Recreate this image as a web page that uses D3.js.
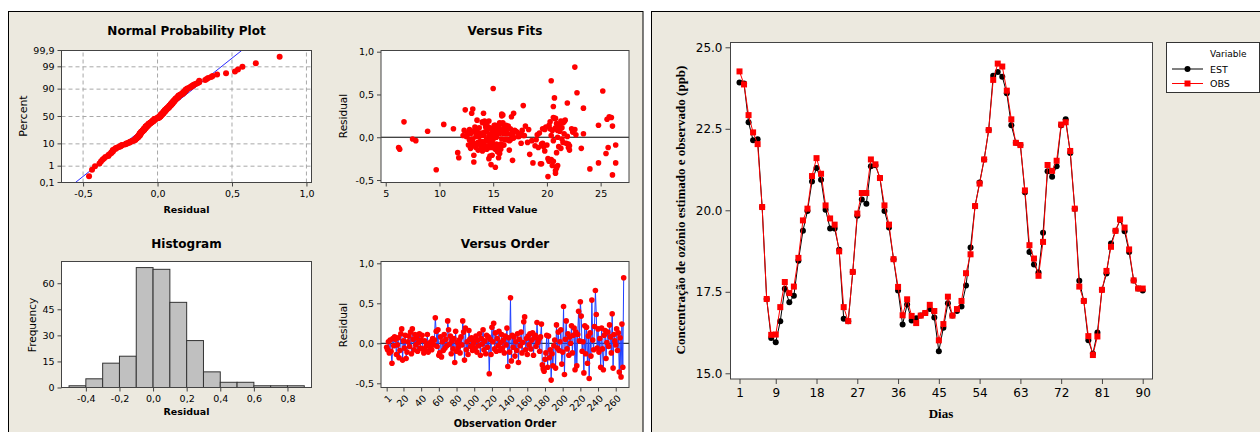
<!DOCTYPE html>
<html>
<head>
<meta charset="utf-8">
<script src="https://cdn.jsdelivr.net/npm/d3@7"></script>
<style>
  body { margin: 0; background: #fff; }
  svg { display: block; }
</style>
</head>
<body>
<svg width="1260" height="432"></svg>
<script>
// ---- residual diagnostics (left panel) ----
const residuals = [
  -0.05,-0.08,0.02,-0.12,0.04,-0.10,-0.25,0.06,-0.03,0.08,0.05,-0.14,-0.02,0.07,-0.18,-0.09,0.12,0.18,-0.21,0.03,
  -0.06,0.10,-0.19,-0.11,0.02,0.09,-0.04,0.14,-0.13,0.18,0.05,-0.08,0.11,-0.02,0.07,-0.10,0.01,0.12,-0.06,0.04,
  0.10,-0.07,-0.12,0.03,-0.09,-0.03,0.11,-0.11,0.00,-0.05,0.02,-0.08,0.06,-0.02,0.04,0.32,0.15,-0.04,0.17,-0.15,
  -0.12,0.08,-0.17,0.02,-0.09,0.11,-0.06,0.05,-0.03,0.28,0.17,-0.01,0.09,-0.13,0.03,-0.07,0.06,-0.24,0.15,-0.10,
  0.01,-0.05,0.04,-0.12,0.08,-0.02,0.28,0.14,-0.21,0.19,-0.08,0.02,-0.14,0.16,0.05,-0.04,0.07,-0.09,0.00,0.03,
  -0.06,0.09,-0.11,0.04,-0.03,0.12,-0.15,0.06,-0.01,0.17,-0.08,0.03,-0.13,0.10,-0.05,0.08,-0.38,0.05,-0.14,0.20,
  0.02,0.25,-0.07,0.13,-0.10,0.06,-0.03,0.15,-0.09,0.01,0.11,-0.06,0.04,-0.12,0.09,-0.02,0.19,-0.29,0.07,-0.11,
  0.57,-0.22,0.10,-0.05,0.08,-0.16,0.02,-0.09,0.12,-0.24,0.05,-0.03,0.14,-0.12,0.01,0.27,0.33,-0.08,0.06,-0.14,
  0.09,-0.02,0.12,-0.07,0.04,0.13,-0.15,0.07,0.10,-0.04,0.26,0.01,0.05,-0.10,0.08,0.24,-0.27,-0.32,-0.35,-0.20,
  -0.12,0.10,-0.30,0.09,-0.18,-0.08,-0.46,-0.13,-0.28,-0.03,0.04,-0.31,0.23,-0.06,0.14,-0.09,0.02,0.17,-0.26,-0.11,
  0.46,-0.39,0.05,0.28,-0.07,0.12,-0.15,0.08,0.00,0.22,-0.12,0.10,0.19,-0.33,0.14,-0.28,0.11,0.40,0.03,0.52,
  0.34,-0.10,0.02,-0.37,0.22,-0.13,0.20,-0.25,0.09,-0.44,0.13,-0.16,0.54,0.04,-0.08,0.21,0.66,0.36,-0.06,0.18,
  -0.11,0.06,-0.30,0.19,-0.07,-0.33,0.10,0.16,-0.19,0.01,0.14,-0.04,0.23,0.08,-0.12,0.37,-0.31,0.11,0.03,-0.02,
  0.18,-0.09,0.13,-0.36,0.07,-0.42,0.24,-0.30,0.82
];
const fittedValues = [
  14.2,13.6,15.1,6.2,14.8,13.1,14.6,15.9,12.8,16.2,13.9,6.3,7.5,14.4,11.7,15.4,13.3,6.7,14.9,12.6,
  13.8,11.3,15.6,14.1,16.8,13.5,7.8,15.2,12.9,14.0,16.1,13.4,14.7,15.8,8.9,14.3,12.5,15.5,13.0,16.4,
  14.5,13.2,15.0,14.0,12.7,16.6,13.7,14.9,15.3,13.9,12.2,15.7,14.2,13.1,16.0,12.4,10.4,14.6,15.9,13.6,
  14.8,13.3,15.4,14.1,12.9,16.3,13.8,15.1,14.4,13.0,14.0,16.9,12.8,15.5,13.5,14.7,17.2,11.8,14.3,15.8,
  13.4,14.9,15.6,13.9,12.3,15.0,14.1,16.2,13.2,14.6,15.3,13.7,14.4,15.7,12.6,16.5,13.1,14.8,15.2,14.0,
  13.6,15.9,14.3,12.9,16.1,14.5,15.4,13.3,14.7,15.6,13.0,16.7,14.2,15.1,13.8,17.0,9.7,14.9,15.7,13.5,
  14.6,15.8,13.9,16.4,14.1,15.2,12.8,14.4,16.0,13.7,15.5,14.8,17.5,13.4,15.0,16.2,14.2,13.2,15.6,14.5,
  15.0,14.7,16.6,13.8,15.3,14.0,17.8,15.9,14.3,15.5,13.6,16.3,15.1,14.6,17.3,15.8,13.1,14.9,16.8,15.2,
  18.3,14.4,16.0,17.6,15.4,18.0,16.5,17.1,14.8,18.6,15.9,17.4,16.2,18.9,17.7,16.7,16.8,14.8,15.2,18.4,
  19.2,20.3,18.7,19.8,20.9,19.5,20.1,21.3,20.2,19.0,21.6,19.4,20.6,18.2,21.1,20.0,17.9,21.5,20.4,19.7,
  20.7,20.8,19.3,16.9,21.8,19.9,22.1,20.5,21.0,20.8,22.0,19.6,21.6,21.0,20.2,20.6,21.4,21.9,19.1,22.8,
  23.4,22.1,20.4,24.0,20.7,23.2,21.7,20.1,22.6,26.1,21.2,19.8,25.2,23.4,22.0,25.6,20.4,20.6,21.5,20.3,
  21.1,22.4,24.8,21.3,19.6,20.5,22.3,20.9,25.5,21.9,24.8,20.6,26.0,21.0,25.7,17.8,19.5,20.8,22.7,21.4,
  21.6,26.4,26.1,20.9,21.2,20.8,25.8,26.4,22.6
];
const histEdges  = [-0.5,-0.4,-0.3,-0.2,-0.1,0.0,0.1,0.2,0.3,0.4,0.5,0.6,0.7,0.8];
const histCounts = [1,5,14,18,69,68,49,27,9,3,3,1,1,1];
const histBinWidth = 0.1;

const probTicks   = [0.1, 1, 10, 50, 90, 99, 99.9];
const probXTicks  = [-0.5, 0, 0.5, 1.0];
const fitsXTicks  = [5, 10, 15, 20, 25];
const residTicks  = [-0.5, 0, 0.5, 1.0];
const histXTicks  = [-0.4, -0.2, 0, 0.2, 0.4, 0.6, 0.8];
const histYTicks  = [0, 15, 30, 45, 60];
const orderXTicks = [1, 20, 40, 60, 80, 100, 120, 140, 160, 180, 200, 220, 240, 260];

// ---- ozone series (right panel) ----
const est = [
  23.92,23.89,22.70,22.15,22.18,20.10,17.28,16.08,15.95,16.60,
  17.59,17.18,17.38,18.45,19.37,19.98,20.88,21.30,20.94,20.02,
  19.44,19.44,18.79,16.67,16.60,18.11,19.83,20.33,20.20,21.35,
  21.38,20.99,19.98,19.47,18.50,17.54,16.50,17.11,16.62,16.69,
  16.77,16.85,16.97,16.71,15.68,16.40,17.15,16.77,16.91,17.05,
  17.69,18.86,20.13,20.85,21.56,22.46,24.13,24.24,24.10,23.59,
  22.61,22.07,22.00,20.55,18.72,18.34,18.09,19.31,21.20,21.03,
  21.35,22.61,22.79,21.76,20.05,17.84,17.22,16.01,15.60,16.25,
  17.56,18.06,18.98,19.37,19.70,19.36,18.72,17.85,17.60,17.54
];
const obs = [
  24.26,23.86,22.92,22.39,22.03,20.10,17.28,16.18,16.19,17.03,
  17.80,17.46,17.66,18.54,19.69,20.05,21.05,21.60,21.12,20.15,
  19.75,19.56,18.74,17.03,16.60,18.11,19.90,20.53,20.53,21.56,
  21.41,20.99,20.15,19.56,18.50,17.65,16.78,17.27,16.76,16.54,
  16.77,16.85,17.10,16.91,16.01,16.51,17.35,16.77,16.97,17.22,
  18.07,18.65,20.13,20.82,21.56,22.46,24.00,24.50,24.41,23.67,
  22.79,22.07,22.00,20.61,18.93,18.52,17.99,19.03,21.39,21.21,
  21.52,22.63,22.70,21.82,20.05,17.66,17.22,16.14,15.56,16.13,
  17.56,18.14,18.88,19.37,19.72,19.47,18.80,17.85,17.60,17.60
];
const dayTicks = [1, 9, 18, 27, 36, 45, 54, 63, 72, 81, 90];
const ozoneTicks = [15.0, 17.5, 20.0, 22.5, 25.0];

const svg = d3.select('svg');
const bg = '#ECE9DF';
const sans = '"DejaVu Sans", Verdana, sans-serif';
const serif = '"Liberation Serif", "Times New Roman", serif';
const comma = v => d3.format('.1f')(v).replace('.', ',').replace('\u2212', '-');

// panel backgrounds
svg.append('rect').attr('x', 8.5).attr('y', 11.5).attr('width', 634.5).attr('height', 440)
    .attr('fill', bg).attr('stroke', '#000');
svg.append('rect').attr('x', 651.5).attr('y', 11.5).attr('width', 620).attr('height', 440)
    .attr('fill', bg).attr('stroke', '#000');

// Acklam's inverse normal CDF, for the probability axis
function normInv(p) {
    const a = [-39.69683028665376, 220.9460984245205, -275.9285104469687, 138.3577518672690, -30.66479806614716, 2.506628277459239];
    const b = [-54.47609879822406, 161.5858368580409, -155.6989798598866, 66.80131188771972, -13.28068155288572];
    const c = [-0.007784894002430293, -0.3223964580411365, -2.400758277161838, -2.549732539343734, 4.374664141464968, 2.938163982698783];
    const d = [0.007784695709041462, 0.3224671290700398, 2.445134137142996, 3.754408661907416];
    const pl = 0.02425;
    let q, r;
    if (p < pl) {
        q = Math.sqrt(-2 * Math.log(p));
        return (((((c[0]*q+c[1])*q+c[2])*q+c[3])*q+c[4])*q+c[5]) / ((((d[0]*q+d[1])*q+d[2])*q+d[3])*q+1);
    }
    if (p <= 1 - pl) {
        q = p - 0.5; r = q * q;
        return (((((a[0]*r+a[1])*r+a[2])*r+a[3])*r+a[4])*r+a[5])*q / (((((b[0]*r+b[1])*r+b[2])*r+b[3])*r+b[4])*r+1);
    }
    q = Math.sqrt(-2 * Math.log(1 - p));
    return -(((((c[0]*q+c[1])*q+c[2])*q+c[3])*q+c[4])*q+c[5]) / ((((d[0]*q+d[1])*q+d[2])*q+d[3])*q+1);
}

// white plotting frame for a pair of scales
function drawFrame(x, y, id) {
    const [x0, x1] = x.range();
    const [y1, y0] = y.range();
    svg.append('rect').attr('x', x0).attr('y', y0).attr('width', x1 - x0).attr('height', y1 - y0)
        .attr('fill', '#fff');
    svg.append('clipPath').attr('id', id).append('rect')
        .attr('x', x0).attr('y', y0).attr('width', x1 - x0).attr('height', y1 - y0);
}
function drawBorder(x, y) {
    const [x0, x1] = x.range();
    const [y1, y0] = y.range();
    svg.append('rect').attr('x', x0).attr('y', y0).attr('width', x1 - x0).attr('height', y1 - y0)
        .attr('fill', 'none').attr('stroke', '#444');
}
function styleAxis(g, size) {
    g.select('.domain').remove();
    g.selectAll('line').attr('stroke', '#444');
    g.selectAll('text').attr('font-family', sans).attr('font-size', size).attr('fill', '#000');
}
function xAxis(x, y, ticks, fmt, size) {
    const g = svg.append('g').attr('transform', `translate(0,${y.range()[0]})`)
        .call(d3.axisBottom(x).tickValues(ticks).tickFormat(fmt).tickSize(4).tickSizeOuter(0).tickPadding(4));
    styleAxis(g, size);
    return g;
}
function yAxis(x, y, ticks, fmt, size) {
    const g = svg.append('g').attr('transform', `translate(${x.range()[0]},0)`)
        .call(d3.axisLeft(y).tickValues(ticks).tickFormat(fmt).tickSize(4).tickSizeOuter(0).tickPadding(3));
    styleAxis(g, size);
    return g;
}
function label(text, x, y, opts = {}) {
    const t = svg.append('text')
        .attr('x', x).attr('y', y)
        .attr('text-anchor', opts.anchor || 'middle')
        .attr('dominant-baseline', 'central')
        .attr('font-family', opts.family || sans)
        .attr('font-size', opts.size || 10)
        .attr('font-weight', opts.bold ? 'bold' : 'normal')
        .attr('fill', '#000')
        .text(text);
    if (opts.rotate) t.attr('transform', `rotate(-90, ${x}, ${y})`);
    return t;
}

// ---------- Normal Probability Plot ----------
const n = residuals.length;
const zMin = normInv(0.001), zMax = normInv(0.999);
const pX = d3.scaleLinear().domain([-0.645, 1.034]).range([61.5, 311.5]);
const pY = d3.scaleLinear().domain([zMin, zMax]).range([182.5, 50.5]);
drawFrame(pX, pY, 'clipP');

svg.append('g').selectAll('line.vg').data(probXTicks).join('line')
    .attr('x1', d => pX(d)).attr('x2', d => pX(d)).attr('y1', pY.range()[0]).attr('y2', pY.range()[1])
    .attr('stroke', '#a8a8a8').attr('stroke-dasharray', '4,3');
svg.append('g').selectAll('line.hg').data(probTicks).join('line')
    .attr('x1', pX.range()[0]).attr('x2', pX.range()[1])
    .attr('y1', d => pY(normInv(d / 100))).attr('y2', d => pY(normInv(d / 100)))
    .attr('stroke', '#a8a8a8').attr('stroke-dasharray', '4,3');

const mean = d3.mean(residuals), sd = d3.deviation(residuals);
svg.append('line').attr('clip-path', 'url(#clipP)')
    .attr('x1', pX(mean + sd * zMin)).attr('y1', pY(zMin))
    .attr('x2', pX(mean + sd * zMax)).attr('y2', pY(zMax))
    .attr('stroke', '#2b2bff').attr('stroke-width', 1);

const sorted = residuals.slice().sort(d3.ascending);
svg.append('g').selectAll('circle').data(sorted).join('circle')
    .attr('cx', d => pX(d))
    .attr('cy', (d, i) => pY(normInv((i + 1 - 0.3) / (n + 0.4))))
    .attr('r', 3).attr('fill', '#ff0000');
drawBorder(pX, pY);
xAxis(pX, pY, probXTicks, comma, 9.5);
yAxis(pX, pY, probTicks, d => String(d).replace('.', ','), 9.5)
    .selectAll('.tick').attr('transform', d => `translate(0,${pY(normInv(d / 100))})`);
label('Normal Probability Plot', 186.5, 31, { bold: true, size: 12 });
label('Residual', 186.5, 209, { bold: true, size: 9.5 });
label('Percent', 23.5, 116, { size: 11, rotate: true });

// ---------- Versus Fits ----------
const fX = d3.scaleLinear().domain([4.56, 27.64]).range([381, 629]);
const fY = d3.scaleLinear().domain([-0.529, 1.014]).range([182.5, 50.5]);
drawFrame(fX, fY, 'clipF');
svg.append('line').attr('x1', fX.range()[0]).attr('x2', fX.range()[1])
    .attr('y1', fY(0)).attr('y2', fY(0)).attr('stroke', '#000');
svg.append('g').selectAll('circle').data(residuals).join('circle')
    .attr('cx', (d, i) => fX(fittedValues[i])).attr('cy', d => fY(d))
    .attr('r', 2.8).attr('fill', '#ff0000');
drawBorder(fX, fY);
xAxis(fX, fY, fitsXTicks, d3.format('d'), 9.5);
yAxis(fX, fY, residTicks, comma, 9.5);
label('Versus Fits', 505, 31, { bold: true, size: 12 });
label('Fitted Value', 505, 209, { bold: true, size: 9.5 });
label('Residual', 343, 116, { size: 10.5, rotate: true });

// ---------- Histogram ----------
const hX = d3.scaleLinear().domain([-0.545, 0.943]).range([61.5, 311.5]);
const hY = d3.scaleLinear().domain([0, 72.5]).range([387.5, 261.5]);
drawFrame(hX, hY, 'clipH');
svg.append('g').selectAll('rect').data(histCounts).join('rect')
    .attr('x', (d, i) => hX(histEdges[i]))
    .attr('width', (d, i) => hX(histEdges[i] + histBinWidth) - hX(histEdges[i]))
    .attr('y', d => hY(d))
    .attr('height', d => hY(0) - hY(d))
    .attr('fill', '#c0c0c0').attr('stroke', '#333').attr('stroke-width', 1);
drawBorder(hX, hY);
xAxis(hX, hY, histXTicks, comma, 9.5);
yAxis(hX, hY, histYTicks, d3.format('d'), 9.5);
label('Histogram', 186.5, 243.5, { bold: true, size: 12 });
label('Residual', 186.5, 411.5, { bold: true, size: 9.5 });
label('Frequency', 31.5, 325, { size: 10.5, rotate: true });

// ---------- Versus Order ----------
const oX = d3.scaleLinear().domain([-5.4, 275]).range([381, 629]);
const oY = d3.scaleLinear().domain([-0.5525, 1.0225]).range([387.5, 261.5]);
drawFrame(oX, oY, 'clipO');
svg.append('line').attr('x1', oX.range()[0]).attr('x2', oX.range()[1])
    .attr('y1', oY(0)).attr('y2', oY(0)).attr('stroke', '#000');
svg.append('path').datum(residuals)
    .attr('d', d3.line().x((d, i) => oX(i + 1)).y(d => oY(d)))
    .attr('fill', 'none').attr('stroke', '#1f3fff').attr('stroke-width', 1);
svg.append('g').selectAll('circle').data(residuals).join('circle')
    .attr('cx', (d, i) => oX(i + 1)).attr('cy', d => oY(d))
    .attr('r', 2.8).attr('fill', '#ff0000');
drawBorder(oX, oY);
const gOx = xAxis(oX, oY, orderXTicks, d3.format('d'), 9.5);
gOx.selectAll('text')
    .attr('y', 0).attr('dy', '0.35em')
    .attr('text-anchor', 'end')
    .attr('transform', 'translate(3,9) rotate(-45)');
yAxis(oX, oY, residTicks, comma, 9.5);
label('Versus Order', 505, 243.5, { bold: true, size: 12 });
label('Observation Order', 505, 423.5, { bold: true, size: 9.8 });
label('Residual', 343, 325, { size: 10.5, rotate: true });

// ---------- Ozone time series ----------
const days = est.map((d, i) => i + 1);
const tX = d3.scaleLinear().domain([-0.987, 92.16]).range([730.5, 1152.5]);
const tY = d3.scaleLinear().domain([14.825, 25.147]).range([379, 42.5]);
drawFrame(tX, tY, 'clipT');

const seriesLine = vals => d3.line().x((d, i) => tX(days[i])).y(d => tY(d))(vals);
svg.append('path').attr('d', seriesLine(est))
    .attr('fill', 'none').attr('stroke', '#000').attr('stroke-width', 1);
svg.append('g').selectAll('circle').data(est).join('circle')
    .attr('cx', (d, i) => tX(days[i])).attr('cy', d => tY(d))
    .attr('r', 3).attr('fill', '#000');
svg.append('path').attr('d', seriesLine(obs))
    .attr('fill', 'none').attr('stroke', '#ff0000').attr('stroke-width', 1);
svg.append('g').selectAll('rect').data(obs).join('rect')
    .attr('x', (d, i) => tX(days[i]) - 3).attr('y', d => tY(d) - 3)
    .attr('width', 6).attr('height', 6).attr('fill', '#ff0000');
drawBorder(tX, tY);

const gTx = svg.append('g').attr('transform', `translate(0,${tY.range()[0]})`)
    .call(d3.axisBottom(tX).tickValues(dayTicks).tickFormat(d3.format('d')).tickSize(5).tickSizeOuter(0).tickPadding(4));
styleAxis(gTx, 12);
const gTy = svg.append('g').attr('transform', `translate(${tX.range()[0]},0)`)
    .call(d3.axisLeft(tY).tickValues(ozoneTicks).tickFormat(d3.format('.1f')).tickSize(5).tickSizeOuter(0).tickPadding(3));
styleAxis(gTy, 12);

label('Dias', 941, 413, { bold: true, size: 13, family: serif });
label('Concentração de ozônio estimado e observado (ppb)', 680, 210, { bold: true, size: 13, family: serif, rotate: true });

// legend
const lg = svg.append('g');
lg.append('rect').attr('x', 1166.5).attr('y', 42.5).attr('width', 93).attr('height', 50)
    .attr('fill', '#fff').attr('stroke', '#333');
label('Variable', 1210, 53.5, { anchor: 'start', size: 9 });
label('EST', 1210, 69, { anchor: 'start', size: 9.5 });
label('OBS', 1210, 83.5, { anchor: 'start', size: 9.5 });
lg.append('line').attr('x1', 1172).attr('x2', 1203).attr('y1', 69).attr('y2', 69).attr('stroke', '#000');
lg.append('circle').attr('cx', 1187.5).attr('cy', 69).attr('r', 3).attr('fill', '#000');
lg.append('line').attr('x1', 1172).attr('x2', 1203).attr('y1', 83.5).attr('y2', 83.5).attr('stroke', '#ff0000');
lg.append('rect').attr('x', 1184.5).attr('y', 80.5).attr('width', 6).attr('height', 6).attr('fill', '#ff0000');
</script>
</body>
</html>
